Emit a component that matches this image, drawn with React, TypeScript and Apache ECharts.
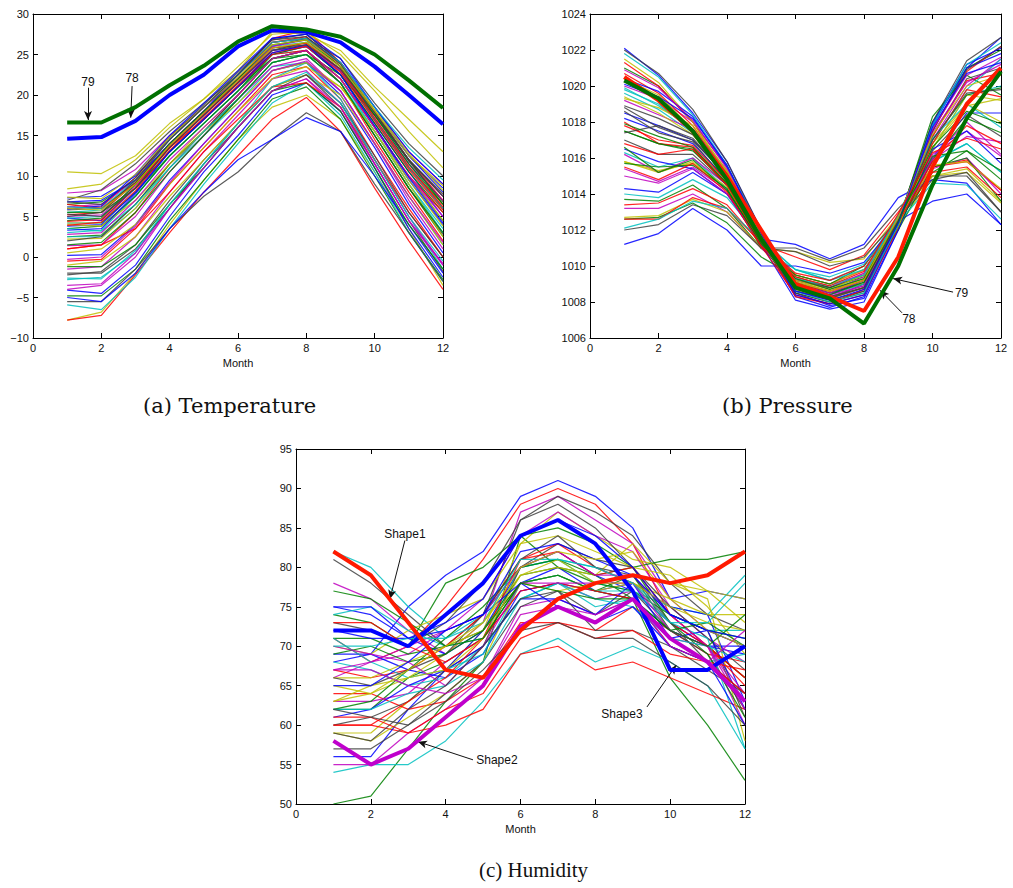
import React, { useEffect, useRef } from "react";
import * as echarts from "echarts";

const MONTHS = [1, 2, 3, 4, 5, 6, 7, 8, 9, 10, 11, 12];
const COLORS = ["#0000ff", "#008000", "#ff0000", "#00bfbf", "#bf00bf", "#bfbf00", "#404040"];

const TEMP_ROWS: number[][] = [
  [7.3, 7.5, 10, 14.5, 18.5, 22, 26, 27, 23.5, 18, 12.5, 8.5],
  [6.5, 6.8, 9.5, 14, 18, 21.5, 25.5, 26.5, 23, 17.5, 12, 7.5],
  [6, 6.2, 9.8, 14.5, 18.5, 22.5, 27, 28, 24, 18, 12, 7],
  [5.5, 5.8, 9, 13.5, 17.5, 21.5, 26, 26.5, 23.5, 17.5, 11.5, 6],
  [7.9, 8.2, 10.8, 15, 18.5, 22, 26.5, 27, 24, 18.5, 13, 9],
  [10.5, 10.3, 12.5, 16.5, 19.5, 23, 27.8, 27.5, 25.5, 21, 17, 13],
  [7, 8.3, 11.5, 15.5, 19, 22.5, 26.5, 27, 24.5, 19, 14, 10],
  [4.8, 4.5, 8.5, 13, 17, 21, 25, 26, 22.5, 16.5, 10.5, 5],
  [4.2, 4.2, 8, 12.5, 16.5, 20.5, 24.5, 25.5, 22, 16, 10, 4.5],
  [5.2, 5.5, 9.2, 14, 18, 22, 26.5, 27.2, 23.5, 17, 11, 6.5],
  [3, 3.3, 7.5, 12.5, 16.5, 20.5, 25, 25.5, 22, 15.5, 9, 3.5],
  [6.2, 6.5, 9.5, 14, 18, 22, 26, 26.8, 23, 17, 11.5, 7],
  [8.4, 9, 12, 16, 19.5, 23.5, 27.5, 27.8, 25, 20.5, 15.5, 11],
  [5.8, 6, 9.2, 13.8, 17.8, 21.8, 25.8, 26.2, 23, 17, 11, 6],
  [3.8, 4, 8, 13, 17, 21, 25.5, 26, 22.5, 16, 9.5, 4],
  [2.5, 2.7, 6.5, 11.5, 15.5, 19.5, 24, 25, 21.5, 15, 8.5, 2.5],
  [1, 1.5, 5.5, 11, 15.5, 20, 24.5, 25.5, 21.5, 14.5, 8, 2],
  [2.5, 2.5, 6, 11, 15, 19, 23.5, 24, 20.5, 14, 7.5, 1.5],
  [1.4, 1.5, 5, 10.5, 15, 19.5, 23.5, 24.5, 20.5, 14, 7, 1],
  [2.2, 2.3, 6, 11.5, 16, 20, 24.5, 25.5, 22, 16, 10, 4.5],
  [2, 2.5, 6.5, 11.5, 15.5, 20, 24.5, 25.5, 21.5, 15, 8.5, 2.8],
  [0.2, 0.3, 4, 9.5, 14, 18.5, 23, 24, 20, 13.5, 6.5, 0.5],
  [3.5, 3.8, 7.5, 12.5, 16.5, 20.5, 25, 26, 22.5, 16.5, 10.5, 5.5],
  [-0.5, -0.3, 3.5, 9, 13.5, 18, 22.5, 23.5, 19.5, 12.5, 6, 0],
  [-2.8, -2.5, 0.5, 6.5, 11.5, 16.5, 22, 24, 19.5, 12, 5, -1.5],
  [-1.5, -1.2, 2.5, 8, 13, 17.5, 22, 23, 19, 12, 5, -1],
  [-7.8, -6.8, -2, 4, 9.5, 14.5, 18.5, 20, 17, 10.5, 3.5, -3.5],
  [-2.2, -1.8, 1.5, 7, 12, 16.5, 21, 22.5, 18.5, 11.5, 4.5, -1.8],
  [-4.1, -4.5, -1, 5, 10.5, 15, 20, 21.5, 18, 11, 3.5, -2.5],
  [-4.8, -4.8, -1.5, 4.5, 9.5, 14.5, 19.5, 21, 17, 10, 3, -2.8],
  [-7.8, -7.2, -2.2, 3, 8, 12.5, 17, 19.7, 15.5, 8.5, 2, -4],
  [-5.9, -6.5, -2.5, 3.5, 9, 14, 19, 21.5, 17.5, 10.5, 3, -3],
  [-4, -3.5, 0, 6, 11, 16, 20.5, 22, 18, 11.5, 4.5, -1],
  [-1, -0.5, 2.5, 7.5, 12, 16.5, 21, 22.5, 20, 14, 7.5, 1.5],
  [-5.5, -5.5, -1.5, 3.5, 7.5, 10.5, 14.5, 17.8, 15.5, 9, 3, -3],
  [-5, -5.5, -2, 3.5, 8, 12, 14.5, 17.2, 15.5, 10, 4, -2],
  [-1.2, -1.2, 1.5, 6.5, 11, 16, 20.5, 21.5, 18, 11, 4, -1.5],
  [1, 1.5, 3.5, 8, 13, 17, 21, 21.5, 18.5, 12, 5.5, 0],
  [4.8, 5, 8.5, 13.5, 17.5, 21.5, 25.5, 26, 23, 17, 11, 6],
  [5, 5.2, 8.8, 13.5, 17.5, 21.5, 25.5, 26, 23, 17.5, 12, 7.5],
  [4, 3.8, 7, 11.5, 15.5, 19, 23, 24, 21, 15.5, 9.5, 3.8],
  [-2, -2, 1, 6, 11.5, 16, 20.5, 22.5, 19, 12.5, 5.5, 0],
  [6.8, 7, 9.5, 14, 18, 22.5, 27, 27.5, 24, 18.5, 13, 9],
  [5.5, 5.5, 8.5, 13, 17, 21, 24.5, 25, 22.5, 17.5, 12, 6.5],
  [6.5, 6, 9, 13.5, 17, 21, 25, 25.5, 22, 16, 10, 5.5],
  [3.5, 3.2, 6.5, 11, 15.5, 19.5, 24, 25, 21.5, 15.5, 9, 3],
  [-3.5, -3.3, 0.5, 6, 11, 16, 20.5, 22, 18.5, 11.5, 4.5, -0.8],
  [0.5, 1, 4, 9, 13.5, 18, 22, 23.5, 21, 15.5, 9, 2.5],
  [6.8, 6.5, 9.8, 14.8, 18.8, 22.8, 26.8, 27.5, 24, 18, 12, 7.5],
  [5.9, 6.3, 10.2, 15, 19, 23, 27, 27.5, 24.5, 18.5, 12.5, 8],
  [4.5, 4.8, 9, 14, 18, 22, 26.2, 26.8, 23.5, 17.5, 11.5, 6.5],
  [3.9, 4.3, 8.2, 13.2, 17.2, 21.2, 25.2, 26, 22.8, 16.8, 10.8, 5.8],
  [6.2, 6, 9.5, 14.5, 18.5, 22.5, 26.5, 27, 24, 18.5, 13.5, 9.5],
  [2.8, 3, 7, 12, 16, 20, 24.5, 25.5, 22, 16, 10, 5],
  [7.4, 7.2, 10.2, 14.8, 18.5, 22.2, 26.2, 26.8, 23.8, 18.2, 12.8, 8.2],
  [5, 5.5, 9.5, 14.5, 18.5, 22.5, 26.8, 27.2, 23.8, 17.8, 11.8, 6.8],
  [3.3, 3.5, 7.8, 13, 17, 21, 25.2, 26.2, 22.5, 16.2, 9.8, 4.2],
  [1.5, 1.8, 5.5, 10.5, 15, 19.5, 24, 25, 21.5, 15, 8.5, 3],
  [4.4, 4.6, 8.6, 13.6, 17.6, 21.6, 25.8, 26.4, 23.2, 17.2, 11.2, 6.2],
  [-2.6, -2.7, 0.8, 6.5, 11.5, 16.5, 21, 22.8, 19, 12, 5, -0.5],
  [-0.3, 0, 3.8, 9.2, 14, 18.5, 23, 24.2, 20.5, 14, 7.5, 1.8],
  [6, 5.8, 9, 13.8, 17.8, 21.8, 25.8, 26.5, 23.5, 18, 12.5, 8.8],
  [5.3, 5, 8.5, 13.5, 17.5, 21.5, 25.5, 26.2, 23.2, 17.8, 12, 7.8],
];
const TEMP_78 = [14.6, 14.8, 16.8, 20, 22.5, 26, 28, 27.8, 26.5, 23.5, 20, 16.4];
const TEMP_79 = [16.6, 16.6, 18.5, 21.2, 23.6, 26.6, 28.5, 28.1, 27.2, 25, 21.8, 18.4];

const PRES_ROWS: number[][] = [
  [1022.1, 1020.6, 1018.5, 1015.8, 1012, 1008.5, 1007.8, 1008.2, 1012, 1017.5, 1021, 1022.7],
  [1021, 1020, 1018, 1015.5, 1012, 1009, 1008.5, 1009, 1012.5, 1018, 1021, 1022],
  [1021.3, 1020, 1018, 1015, 1011.5, 1008.8, 1008.2, 1008.8, 1012.5, 1017.5, 1020.8, 1022.2],
  [1019.8, 1019, 1017.5, 1015, 1011.5, 1009.5, 1009, 1009.5, 1012.5, 1016.5, 1019.5, 1020],
  [1020, 1019.3, 1018, 1015.5, 1012, 1009, 1008.5, 1009, 1012.5, 1017, 1020, 1021.5],
  [1021.5, 1020.2, 1018, 1015.2, 1011.5, 1009.2, 1008.6, 1009, 1012, 1016.5, 1019.5, 1019.2],
  [1022, 1020.7, 1018.7, 1015.8, 1012, 1008.8, 1008.2, 1009, 1012.5, 1018, 1021.4, 1022.7],
  [1018.5, 1017.8, 1017, 1015, 1011.5, 1009, 1008.4, 1009.2, 1012.5, 1016, 1018.5, 1018.5],
  [1017.5, 1016.8, 1016.5, 1014.5, 1011, 1009.2, 1008.8, 1009.5, 1012.8, 1017, 1019.5, 1019.9],
  [1018, 1016.8, 1016.6, 1014.5, 1011.2, 1009.5, 1009, 1009.8, 1012.5, 1015.5, 1015.8, 1014.2],
  [1016.3, 1015.5, 1016, 1014.3, 1011, 1009.8, 1009.2, 1010, 1012.8, 1015.8, 1016.8, 1015.2],
  [1016.2, 1015.2, 1016, 1014.5, 1011.2, 1009.3, 1008.8, 1009.6, 1012.5, 1016, 1018, 1016.2],
  [1015.8, 1015.2, 1015.8, 1014.2, 1011, 1009.5, 1009, 1009.8, 1012.2, 1015, 1015.2, 1013.5],
  [1017, 1016.2, 1016.2, 1014.5, 1011, 1011, 1010.3, 1011, 1013.2, 1015, 1015, 1013],
  [1014.3, 1014.1, 1015.2, 1014, 1011.5, 1011.2, 1010.4, 1011.2, 1013.8, 1014.8, 1014.6, 1012.3],
  [1013.7, 1013.6, 1014.5, 1013.2, 1011, 1009.5, 1009, 1010, 1012.5, 1015.2, 1016.4, 1014.8],
  [1013.4, 1013.5, 1014.3, 1013.4, 1011.2, 1010.5, 1009.8, 1010.6, 1013, 1015.5, 1015.9, 1014.2],
  [1014, 1013.8, 1014.8, 1013.8, 1011.5, 1009.8, 1009.2, 1009.8, 1012.6, 1015.8, 1016.8, 1015.2],
  [1013.2, 1013.2, 1014, 1013, 1011, 1009.2, 1008.8, 1009.6, 1012.4, 1015.4, 1016, 1014],
  [1012.7, 1012.8, 1013.7, 1013, 1011, 1010.8, 1010.2, 1010.4, 1012.8, 1015, 1015.4, 1013.6],
  [1012, 1012.3, 1013.4, 1012.8, 1011, 1010.8, 1010, 1010.5, 1012.6, 1014.8, 1015.2, 1013],
  [1011.2, 1011.8, 1013.2, 1012, 1010, 1010, 1009.6, 1010.2, 1012.5, 1013.6, 1014, 1012.3],
  [1012.6, 1012.7, 1013.5, 1012.4, 1010.5, 1009.4, 1008.8, 1009.4, 1012, 1015.5, 1016, 1013.6],
  [1012.6, 1012.6, 1013.8, 1013.2, 1011.3, 1009.6, 1009.2, 1010, 1012.6, 1015.2, 1015.5, 1013.8],
  [1012.1, 1012.6, 1013.6, 1013.2, 1011.4, 1009.8, 1009.4, 1010.1, 1012.4, 1014.6, 1014.5, 1012.6],
  [1015.4, 1014.7, 1015.5, 1014.2, 1011.2, 1009.1, 1008.6, 1009.4, 1012.6, 1016.2, 1017.5, 1016.1],
  [1015.8, 1015.3, 1015.7, 1014.4, 1011.2, 1009.2, 1008.7, 1009.5, 1012.4, 1015.6, 1015.8, 1014.3],
  [1018.8, 1017.7, 1017, 1015, 1011.6, 1008.6, 1008.1, 1008.6, 1012.2, 1017.2, 1020.4, 1021],
  [1018.2, 1017.5, 1016.8, 1014.8, 1011.4, 1008.3, 1007.7, 1008.3, 1012.3, 1017.8, 1021, 1021.8],
  [1017.5, 1016.8, 1016.4, 1014.6, 1011.3, 1008.5, 1008, 1008.5, 1012.4, 1018.3, 1020.6, 1019.5],
  [1020.7, 1019.6, 1017.8, 1015, 1011.5, 1008.3, 1007.9, 1008.4, 1012.1, 1017.2, 1020.3, 1020.7],
  [1019.6, 1018.7, 1017.4, 1014.9, 1011.4, 1008.9, 1008.4, 1009, 1012.4, 1016.8, 1019.8, 1021.5],
  [1019.2, 1018.4, 1017.6, 1015.3, 1011.7, 1008.7, 1008.3, 1008.9, 1012.5, 1017.4, 1020.2, 1021.2],
  [1020.4, 1019.5, 1017.6, 1015.2, 1011.6, 1009, 1008.6, 1009.3, 1012.7, 1016.8, 1019, 1018],
  [1018.6, 1017.4, 1016.9, 1014.7, 1011.5, 1008.5, 1008, 1008.6, 1012.2, 1016.4, 1018.4, 1017.2],
  [1016.5, 1015.8, 1015.4, 1014, 1011.2, 1008.1, 1007.6, 1008, 1012, 1016.5, 1017.5, 1015.7],
  [1016.6, 1015.2, 1015.9, 1014.2, 1011.3, 1009.1, 1008.5, 1009.1, 1012.2, 1015.9, 1018.2, 1017.4],
  [1017.8, 1017, 1016.7, 1014.7, 1011.1, 1008.4, 1007.9, 1008.7, 1012.3, 1016.8, 1019.8, 1019.4],
  [1019.9, 1018.9, 1017.6, 1015.1, 1011.5, 1009.3, 1008.9, 1009.5, 1012.8, 1017.1, 1019, 1017.7],
  [1015, 1014.6, 1015.4, 1014, 1011.2, 1009, 1008.5, 1009.2, 1012.5, 1015.9, 1017.2, 1016.9],
  [1019.4, 1018.5, 1017.3, 1014.9, 1011.3, 1008.7, 1008.2, 1008.8, 1012.2, 1016.6, 1018.9, 1019.3],
  [1017.4, 1017.8, 1017.1, 1015, 1011.4, 1008.6, 1008.2, 1008.8, 1012.6, 1017.5, 1020.9, 1022.2],
  [1020.4, 1019.7, 1018.3, 1015.5, 1011.8, 1008.4, 1007.9, 1008.4, 1012.3, 1017.9, 1021.2, 1022.1],
  [1015.7, 1015.5, 1015.6, 1014.3, 1011.2, 1009.3, 1008.7, 1009.3, 1012.6, 1016.1, 1016.4, 1015.3],
  [1016.8, 1016.2, 1016.5, 1014.5, 1011.3, 1009, 1008.6, 1009.2, 1012.4, 1015.8, 1017.8, 1016.8],
  [1021.8, 1020.5, 1018.4, 1015.6, 1011.9, 1008.6, 1008, 1008.5, 1012.3, 1017.8, 1021.2, 1022.4],
  [1020.9, 1019.9, 1018.1, 1015.4, 1011.8, 1008.9, 1008.4, 1008.9, 1012.6, 1017.6, 1020.6, 1021.6],
  [1019.3, 1018.8, 1017.8, 1015.3, 1011.7, 1009.1, 1008.6, 1009.2, 1012.7, 1017.3, 1020, 1020.6],
  [1018.9, 1018.2, 1017.3, 1015.1, 1011.6, 1008.8, 1008.3, 1008.8, 1012.4, 1017, 1019.6, 1019.8],
  [1020.1, 1019.4, 1018.2, 1015.6, 1011.8, 1008.6, 1008.1, 1008.7, 1012.4, 1017.7, 1020.7, 1021.3],
  [1017.9, 1017.2, 1016.6, 1014.6, 1011.3, 1008.9, 1008.4, 1009.1, 1012.5, 1016.6, 1018.6, 1017.9],
  [1015.5, 1014.8, 1015.7, 1014.1, 1011.1, 1009.4, 1008.9, 1009.7, 1012.9, 1016.3, 1017.1, 1016.5],
];
const PRES_78 = [1020.5, 1019.2, 1017.5, 1015, 1012, 1009, 1008.3, 1007.5, 1010.5, 1015.5, 1019, 1021];
const PRES_79 = [1020.3, 1019.3, 1017.5, 1014.8, 1011.5, 1008.8, 1008.2, 1006.8, 1010, 1014.5, 1018.2, 1020.8];

const HUM_ROWS: number[][] = [
  [68, 69, 75, 79, 82, 89, 91, 89, 85, 76, 77, 76],
  [50, 51, 57, 63, 68, 84, 80, 79, 76, 66, 60, 53],
  [71, 68, 70, 75, 81, 88, 90, 88, 83, 74, 70, 66],
  [54, 55, 55, 58, 63, 69, 71, 68, 70, 68, 65, 57],
  [78, 76, 72, 69, 73, 87, 89, 86, 83, 76, 72, 70],
  [59, 59, 63, 67, 72, 83, 87, 84, 81, 80, 77, 73],
  [81, 78, 74, 70, 74, 86, 89, 87, 84, 78, 74, 72],
  [75, 74, 71, 69, 72, 80, 82, 79, 77, 73, 70, 69],
  [74, 73, 70, 78, 80, 84, 85, 83, 80, 81, 81, 82],
  [60, 60, 59, 60, 62, 69, 70, 67, 68, 66, 64, 62],
  [82, 80, 75, 71, 74, 80, 81, 78, 77, 75, 74, 79],
  [66, 68, 69, 72, 76, 84, 87, 84, 82, 75, 71, 68],
  [70, 69, 72, 74, 76, 83, 84, 82, 80, 79, 75, 69],
  [73, 72, 70, 73, 78, 86, 88, 85, 80, 74, 72, 61],
  [56, 56, 62, 67, 72, 78, 80, 77, 78, 75, 74, 63],
  [62, 62, 66, 68, 71, 78, 79, 77, 79, 72, 70, 66],
  [64, 64, 62, 63, 66, 73, 73, 72, 75, 72, 69, 68],
  [74, 75, 72, 70, 71, 80, 81, 80, 78, 74, 72, 72],
  [63, 63, 64, 68, 71, 77, 78, 76, 77, 73, 70, 64],
  [59, 58, 61, 64, 68, 78, 79, 77, 78, 76, 74, 74],
  [60, 61, 63, 67, 70, 80, 83, 81, 80, 75, 71, 67],
  [69, 69, 67, 66, 69, 77, 78, 77, 76, 72, 70, 70],
  [71, 71, 69, 70, 72, 79, 80, 78, 77, 74, 72, 71],
  [67, 66, 67, 70, 74, 81, 83, 80, 78, 73, 70, 65],
  [68, 67, 65, 66, 70, 76, 78, 75, 76, 70, 68, 69],
  [55, 55, 59, 62, 66, 75, 76, 74, 76, 71, 70, 60],
  [65, 64, 66, 69, 73, 79, 80, 79, 83, 78, 76, 58],
  [57, 57, 60, 64, 68, 75, 77, 74, 77, 72, 69, 62],
  [61, 62, 65, 67, 70, 76, 76, 74, 78, 71, 72, 62],
  [62, 63, 67, 71, 75, 80, 81, 79, 80, 73, 69, 61],
  [60, 60, 63, 66, 71, 81, 82, 79, 80, 74, 70, 66],
  [71, 68, 66, 67, 69, 78, 79, 77, 77, 73, 71, 57],
  [67, 68, 70, 72, 74, 80, 82, 79, 79, 74, 70, 63],
  [66, 66, 68, 70, 72, 78, 77, 78, 79, 78, 77, 76],
  [66, 65, 67, 69, 74, 81, 84, 80, 79, 73, 68, 64],
  [72, 71, 71, 72, 74, 82, 83, 81, 79, 74, 72, 70],
  [69, 70, 68, 69, 72, 78, 79, 77, 76, 72, 73, 70],
  [73, 73, 70, 68, 71, 77, 78, 77, 76, 70, 68, 67],
  [62, 62, 64, 65, 68, 76, 78, 76, 75, 71, 70, 68],
  [70, 69, 68, 65, 70, 78, 78, 78, 78, 72, 70, 62],
  [63, 65, 66, 67, 71, 79, 81, 78, 78, 75, 73, 72],
  [59, 58, 62, 65, 70, 76, 77, 72, 72, 70, 67, 64],
  [65, 65, 68, 72, 74, 78, 75, 73, 75, 70, 68, 60],
  [77, 76, 73, 70, 71, 78, 77, 76, 76, 72, 70, 74],
  [61, 61, 59, 62, 64, 71, 73, 71, 72, 69, 68, 64],
  [70, 70, 71, 71, 73, 81, 81, 80, 78, 73, 73, 78],
  [67, 67, 65, 64, 66, 74, 75, 74, 76, 70, 68, 72],
  [63, 64, 67, 70, 73, 80, 82, 81, 82, 76, 72, 70],
  [62, 61, 60, 63, 67, 72, 73, 71, 71, 68, 65, 60],
  [75, 75, 71, 73, 76, 84, 86, 84, 80, 74, 72, 71],
];
const HUM_SHAPE1 = [82, 79, 73, 67, 66, 72, 76, 78, 79, 78, 79, 82];
const HUM_SHAPE2 = [58, 55, 57, 61, 65, 72.5, 75, 73, 76, 71, 68, 63];
const HUM_SHAPE3 = [72, 72, 70, 74, 78, 84, 86, 83, 77, 67, 67, 70];

const X_TICKS = [0, 2, 4, 6, 8, 10, 12];
const CAPTIONS = ["(a) Temperature", "(b) Pressure", "(c) Humidity"];

// annotation arrows in data coordinates: [label, textX, textY, fromX, fromY, toX, toY]
const TEMP_NOTES: [string, number, number, number, number, number, number][] = [
  ["79", 1.61, 21.6, 1.61, 20.9, 1.61, 16.9],
  ["78", 2.9, 22.1, 2.9, 21.1, 2.86, 17.2],
];
const PRES_NOTES: [string, number, number, number, number, number, number][] = [
  ["79", 10.85, 1008.5, 10.6, 1008.55, 8.85, 1009.3],
  ["78", 9.31, 1007.06, 9.11, 1007.4, 8.47, 1008.65],
];
const HUM_NOTES: [string, number, number, number, number, number, number][] = [
  ["Shape1", 2.91, 84.2, 2.91, 83.4, 2.51, 76.0],
  ["Shape2", 5.37, 55.6, 4.73, 55.6, 3.26, 57.9],
  ["Shape3", 8.71, 61.4, 9.38, 62.3, 10.16, 67.6],
];

const FONT = "Liberation Sans, Arial, sans-serif";

function toPts(row: number[]) {
  return MONTHS.map((m, j) => [m, row[j]]);
}

function thinSeries(rows: number[][], gi: number) {
  return rows.map((r, i) => ({
    type: "line",
    xAxisIndex: gi * 2,
    yAxisIndex: gi * 2,
    data: toPts(r),
    symbol: "none",
    showSymbol: false,
    silent: true,
    lineStyle: { width: 1.2, color: COLORS[i % COLORS.length], opacity: 0.85 },
    itemStyle: { color: COLORS[i % COLORS.length] },
    z: 2,
  }));
}

function thickSeries(row: number[], gi: number, color: string, z: number, notes?: any[]) {
  const s: any = {
    type: "line",
    xAxisIndex: gi * 2,
    yAxisIndex: gi * 2,
    data: toPts(row),
    symbol: "none",
    showSymbol: false,
    silent: true,
    lineStyle: { width: 4, color },
    itemStyle: { color },
    z,
  };
  if (notes) {
    s.markLine = {
      silent: true,
      symbol: ["none", "arrow"],
      symbolSize: [6, 9],
      lineStyle: { color: "#111", width: 1, type: "solid" },
      label: { show: false },
      data: notes.map((n) => [
        { coord: [n[3], n[4]], symbol: "none" },
        { coord: [n[5], n[6]], symbol: "arrow" },
      ]),
    };
    s.markPoint = {
      silent: true,
      symbol: "rect",
      symbolSize: 1,
      itemStyle: { color: "rgba(0,0,0,0)" },
      label: {
        show: true,
        position: "inside",
        color: "#111",
        fontFamily: FONT,
        fontSize: 12,
      },
      data: notes.map((n) => ({ coord: [n[1], n[2]], value: n[0], label: { formatter: n[0] } })),
    };
  }
  return s;
}

function axesFor(gi: number, ymin: number, ymax: number, yint: number, minusFix: boolean) {
  const labelStyle = { color: "#111", fontFamily: FONT, fontSize: 11 };
  const line = { show: true, lineStyle: { color: "#000", width: 1 } };
  const tick = { show: true, inside: true, length: 5, lineStyle: { color: "#000" } };
  const xa = [
    {
      type: "value",
      gridIndex: gi,
      min: 0,
      max: 12,
      interval: 2,
      position: "bottom",
      name: "Month",
      nameLocation: "middle",
      nameGap: 19,
      nameTextStyle: { color: "#111", fontFamily: FONT, fontSize: 11 },
      axisLine: { ...line, onZero: false },
      axisTick: tick,
      axisLabel: { ...labelStyle, margin: 4, formatter: (v: number) => (X_TICKS.includes(v) ? String(v) : "") },
      splitLine: { show: false },
    },
    {
      type: "value",
      gridIndex: gi,
      min: 0,
      max: 12,
      interval: 2,
      position: "top",
      axisLine: { ...line, onZero: false },
      axisTick: tick,
      axisLabel: { show: false },
      splitLine: { show: false },
    },
  ];
  const ya = [
    {
      type: "value",
      gridIndex: gi,
      min: ymin,
      max: ymax,
      interval: yint,
      position: "left",
      axisLine: { ...line, onZero: false },
      axisTick: tick,
      axisLabel: {
        ...labelStyle,
        margin: 4,
        formatter: (v: number) => (minusFix ? String(v).replace("-", "\u2212") : String(v)),
      },
      splitLine: { show: false },
    },
    {
      type: "value",
      gridIndex: gi,
      min: ymin,
      max: ymax,
      interval: yint,
      position: "right",
      axisLine: { ...line, onZero: false },
      axisTick: tick,
      axisLabel: { show: false },
      splitLine: { show: false },
    },
  ];
  return { xa, ya };
}

export default function App() {
  const ref = useRef<HTMLDivElement>(null);
  useEffect(() => {
    if (!ref.current) return;
    const chart = echarts.init(ref.current, null, { renderer: "svg" });
    const a = axesFor(0, -10, 30, 5, true);
    const b = axesFor(1, 1006, 1024, 2, false);
    const c = axesFor(2, 50, 95, 5, false);
    const option: any = {
      animation: false,
      backgroundColor: "#ffffff",
      grid: [
        { left: 33, top: 14, width: 410, height: 324, containLabel: false },
        { left: 590, top: 14, width: 411, height: 324, containLabel: false },
        { left: 296, top: 449, width: 449, height: 355, containLabel: false },
      ],
      xAxis: [...a.xa, ...b.xa, ...c.xa],
      yAxis: [...a.ya, ...b.ya, ...c.ya],
      series: [
        ...thinSeries(TEMP_ROWS, 0),
        thickSeries(TEMP_78, 0, "#0000ff", 5),
        thickSeries(TEMP_79, 0, "#007000", 6, TEMP_NOTES),
        ...thinSeries(PRES_ROWS, 1),
        thickSeries(PRES_78, 1, "#ff1a00", 5),
        thickSeries(PRES_79, 1, "#007000", 6, PRES_NOTES),
        ...thinSeries(HUM_ROWS, 2),
        thickSeries(HUM_SHAPE3, 2, "#0000ff", 5),
        thickSeries(HUM_SHAPE2, 2, "#bf00cc", 5),
        thickSeries(HUM_SHAPE1, 2, "#ff1a00", 6, HUM_NOTES),
      ],
      graphic: [
        {
          type: "text",
          left: 143,
          top: 395,
          style: { text: CAPTIONS[0], font: "21px 'DejaVu Serif', serif", fill: "#111" },
        },
        {
          type: "text",
          left: 722,
          top: 395,
          style: { text: CAPTIONS[1], font: "21px 'DejaVu Serif', serif", fill: "#111" },
        },
        {
          type: "text",
          left: 479,
          top: 859,
          style: { text: CAPTIONS[2], font: "21px 'Liberation Serif', serif", fill: "#111" },
        },
      ],
    };
    chart.setOption(option);
    return () => chart.dispose();
  }, []);
  return (
    <div
      ref={ref}
      style={{ position: "absolute", left: 0, top: 0, width: 1013, height: 888, background: "#fff" }}
    />
  );
}
